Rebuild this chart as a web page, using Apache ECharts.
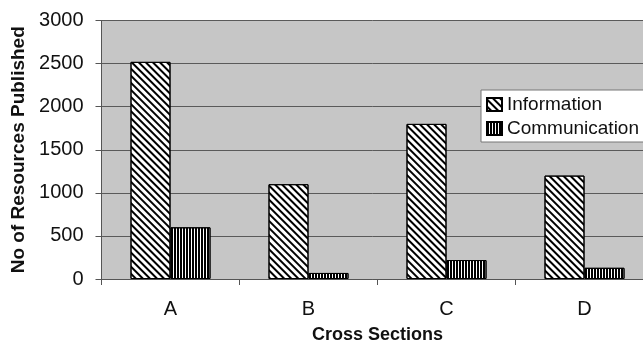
<!DOCTYPE html>
<html><head><meta charset="utf-8">
<script src="https://cdn.jsdelivr.net/npm/echarts@6/dist/echarts.min.js"></script>
<style>html,body{margin:0;padding:0;background:#fff}#c{width:643px;height:343px}</style>
</head><body><div id="c"></div>
<script>
const categories = ['A', 'B', 'C', 'D'];
const information = [2520, 1100, 1800, 1200];
const communication = [600, 70, 220, 130];
const yTicks = [0, 500, 1000, 1500, 2000, 2500, 3000];

const font = '"Liberation Sans", Arial, sans-serif';
const chart = echarts.init(document.getElementById('c'), null, {renderer: 'canvas'});
chart.setOption({
  animation: false,
  backgroundColor: '#fff',
  grid: {left: 101.5, top: 20.5, width: 552, height: 258.5, show: true, backgroundColor: '#c6c6c6', borderWidth: 0,
    outerBoundsMode: 'none', containLabel: false},
  legend: {
    orient: 'vertical', left: 481, top: 90,
    backgroundColor: '#fff', borderColor: '#777', borderWidth: 1,
    padding: [5, 6, 4, 5], itemGap: 5, itemWidth: 15, itemHeight: 13, icon: 'rect',
    textStyle: {fontFamily: font, fontSize: 19, color: '#111'},
    data: ['Information', 'Communication']
  },
  xAxis: {
    type: 'category', data: categories,
    name: 'Cross Sections', nameLocation: 'middle', nameGap: 47,
    nameTextStyle: {fontFamily: font, fontSize: 18, fontWeight: 'bold', color: '#111'},
    axisLine: {lineStyle: {color: '#555', width: 1}},
    axisTick: {show: true, length: 6, lineStyle: {color: '#555'}},
    axisLabel: {fontFamily: font, fontSize: 20, color: '#111', margin: 20}
  },
  yAxis: {
    type: 'value', min: yTicks[0], max: yTicks[yTicks.length - 1], interval: 500,
    name: 'No of Resources Published', nameLocation: 'middle', nameGap: 63,
    nameTextStyle: {fontFamily: font, fontSize: 19, fontWeight: 'bold', color: '#111'},
    axisLine: {show: true, lineStyle: {color: '#555', width: 1}},
    axisTick: {show: true, length: 6, lineStyle: {color: '#555'}},
    axisLabel: {fontFamily: font, fontSize: 20, color: '#111', margin: 18, formatter: v => String(v)},
    splitLine: {show: true, lineStyle: {color: '#5a5a5a', width: 1}}
  },
  series: [
    {
      name: 'Information', type: 'bar', data: information, barWidth: 40, barGap: '0%',
      itemStyle: {color: '#fff', borderColor: '#000', borderWidth: 1,
        decal: {symbol: 'rect', symbolSize: 1, dashArrayX: [1, 0], dashArrayY: [1.6, 2.2], rotation: Math.PI / 4, color: '#000'}}
    },
    {
      name: 'Communication', type: 'bar', data: communication, barWidth: 40,
      itemStyle: {color: '#fff', borderColor: '#000', borderWidth: 1,
        decal: {symbol: 'rect', symbolSize: 1, dashArrayX: [2, 1], dashArrayY: [1, 0], rotation: 0, color: '#000'}}
    }
  ]
});
</script></body></html>
